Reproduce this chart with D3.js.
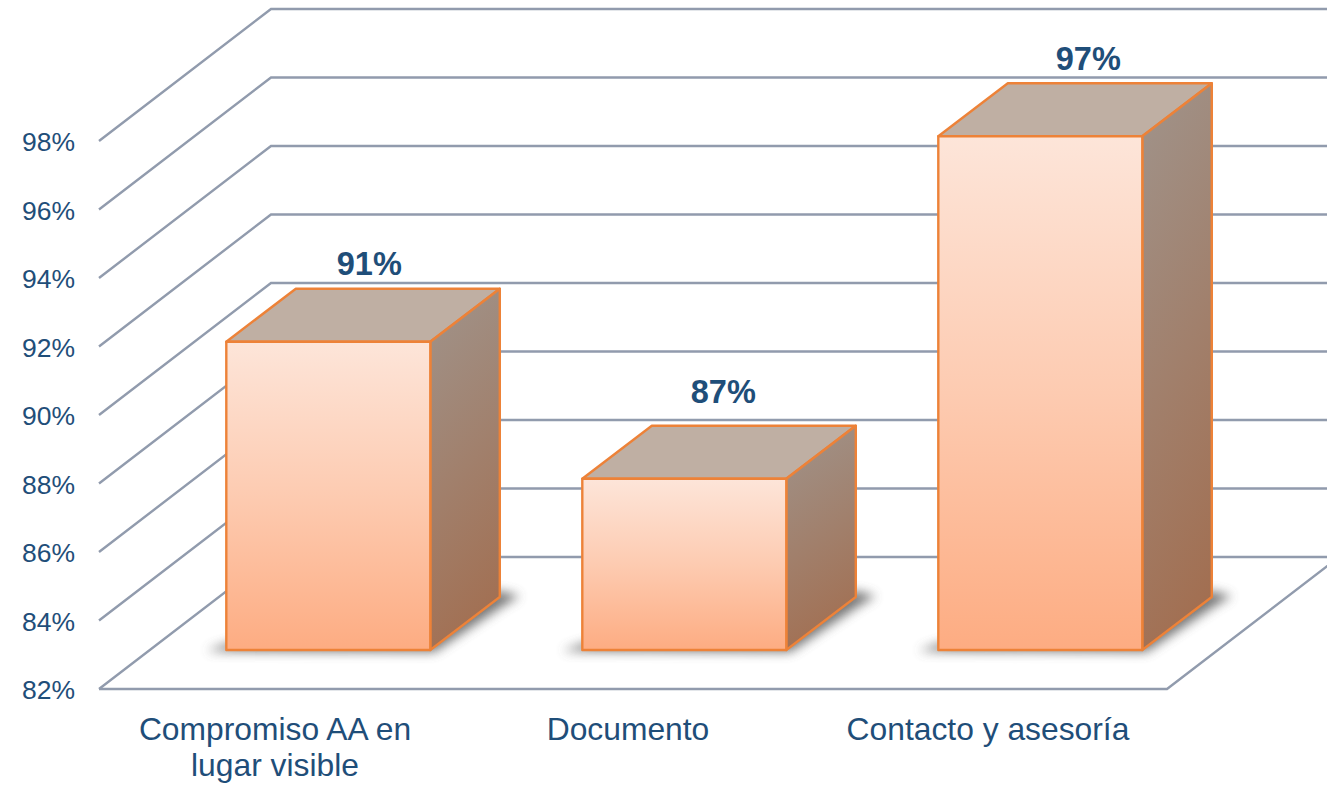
<!DOCTYPE html>
<html><head><meta charset="utf-8">
<script src="https://cdn.jsdelivr.net/npm/d3@7"></script>
<style>html,body{margin:0;background:#fff;overflow:hidden}svg{display:block}text{font-family:"Liberation Sans",Arial,sans-serif}</style>
</head><body><svg id="c" width="1327" height="785"></svg>
<script>
const categories = [["Compromiso AA en","lugar visible"],["Documento"],["Contacto y asesoría"]];
const values = [91, 87, 97];
const valueLabels = ["91%", "87%", "97%"];
const yTicks = [82,84,86,88,90,92,94,96,98];

const W=1327,H=785;
const svg=d3.select("#c").attr("viewBox",[0,0,W,H]);
const front={l:99,r:1167,b:689,t:141};
const depth={dx:172,dy:-132};
const plane={dx:51.3,dy:-39};      // front plane of the bars
const barDepth={dx:69.5,dy:-53};
const y=d3.scaleLinear().domain([82,98]).range([front.b,front.t]);
const x=d3.scaleBand().domain(d3.range(3)).range([front.l,front.r]);
const barW=x.bandwidth()*0.573;
const labelOff=[[41,-14],[39,-23],[48,-13]];
const catOff=[-2,-5,-1];
const gridC="#919bad";

const defs=svg.append("defs");
const g1=defs.append("linearGradient").attr("id","fr").attr("x1",0).attr("x2",0).attr("y1",0).attr("y2",1);
g1.append("stop").attr("offset",0).attr("stop-color","#fde5d9");
g1.append("stop").attr("offset",.5).attr("stop-color","#fdcbb1");
g1.append("stop").attr("offset",1).attr("stop-color","#fdac82");
const g2=defs.append("linearGradient").attr("id","si").attr("x1",0.4).attr("x2",0.6).attr("y1",0).attr("y2",1);
g2.append("stop").attr("offset",0).attr("stop-color","#a09187");
g2.append("stop").attr("offset",1).attr("stop-color","#a26e50");
defs.append("filter").attr("id","bl").attr("x","-30%").attr("y","-100%").attr("width","160%").attr("height","300%")
  .append("feGaussianBlur").attr("stdDeviation",5.5);

// grid
const grid=svg.append("g").attr("fill","none").attr("stroke",gridC).attr("stroke-width",2.4);
yTicks.forEach(t=>{
  const p=d3.path();
  p.moveTo(front.l,y(t)); p.lineTo(front.l+depth.dx,y(t)+depth.dy); p.lineTo(W,y(t)+depth.dy);
  grid.append("path").attr("d",p.toString());
});
const fl=d3.path();
fl.moveTo(front.l,front.b); fl.lineTo(front.r,front.b); fl.lineTo(front.r+depth.dx,front.b+depth.dy);
grid.append("path").attr("d",fl.toString());

// tick labels
svg.append("g").selectAll("text").data(yTicks).join("text")
  .attr("x",75).attr("y",d=>y(d)+10).attr("text-anchor","end")
  .attr("font-size",26.5).attr("fill","#1f4e79").text(d=>d+"%");

// bars
const pts=a=>a.map(q=>q.join(",")).join(" ");
const bars=svg.append("g");
values.forEach((v,i)=>{
  const cx=x(i)+x.bandwidth()/2+plane.dx, l=cx-barW/2, r=cx+barW/2;
  const b=front.b+plane.dy, t=y(v)+plane.dy;
  const d=barDepth;
  bars.append("polygon").attr("filter","url(#bl)").attr("fill","#555").attr("opacity",.8)
    .attr("points",pts([[l-20,b+1],[r+4,b+2],[r+d.dx+6,b+d.dy+7],[r+d.dx+20,b+d.dy-1],[r+d.dx,b+d.dy-6],[l,b-6]]));
  const s={stroke:"#ed8238","stroke-width":2.4,"stroke-linejoin":"round"};
  const add=(p,f)=>{const e=bars.append("polygon").attr("points",pts(p)).attr("fill",f);
    Object.entries(s).forEach(([k,val])=>e.attr(k,val));};
  add([[l,t],[l+d.dx,t+d.dy],[r+d.dx,t+d.dy],[r,t]],"#bfafa3");
  add([[r,t],[r+d.dx,t+d.dy],[r+d.dx,b+d.dy],[r,b]],"url(#si)");
  add([[l,t],[r,t],[r,b],[l,b]],"url(#fr)");
  bars.append("text").attr("x",cx+labelOff[i][0]).attr("y",t+d.dy+labelOff[i][1])
    .attr("text-anchor","middle").attr("font-size",32.5).attr("font-weight","bold")
    .attr("fill","#1f4e79").text(valueLabels[i]);
});

// category labels
const cat=svg.append("g").attr("text-anchor","middle").attr("fill","#1f4e79").attr("font-size",31.8);
categories.forEach((c,i)=>{
  c.forEach((s,j)=>cat.append("text").attr("x",x(i)+x.bandwidth()/2+catOff[i]).attr("y",740+j*36).text(s));
});
</script></body></html>
